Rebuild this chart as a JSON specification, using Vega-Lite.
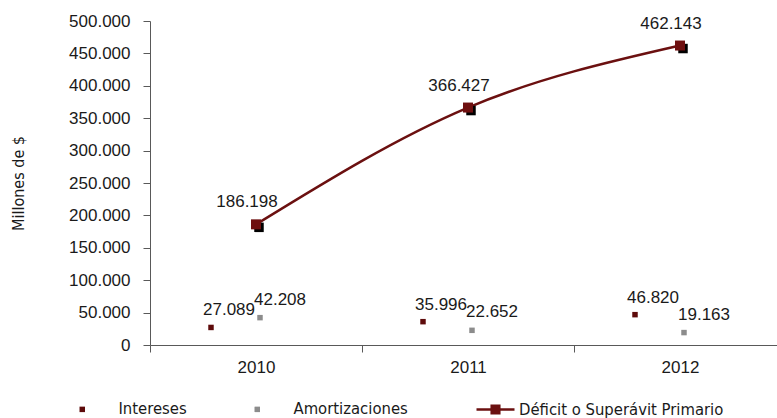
{
  "$schema": "https://vega.github.io/schema/vega-lite/v6.json",
  "width": 627,
  "height": 324,
  "autosize": {"type": "none"},
  "padding": {"left": 150, "top": 21, "right": 0, "bottom": 73},
  "background": "white",
  "config": {
    "locale": {"number": {"decimal": ",", "thousands": ".", "grouping": [3], "currency": ["$", ""]}},
    "view": {"stroke": null},
    "font": "Liberation Sans",
    "axis": {
      "domainColor": "#595959",
      "tickColor": "#595959",
      "labelColor": "#1a1a1a",
      "titleColor": "#1a1a1a",
      "grid": false,
      "labelFont": "Liberation Sans",
      "labelFontSize": 17,
      "tickSize": 7,
      "domainWidth": 1,
      "tickWidth": 1
    }
  },
  "data": {
    "values": [
      {"anio": "2010", "serie": "Intereses", "valor": 27089},
      {"anio": "2010", "serie": "Amortizaciones", "valor": 42208},
      {"anio": "2010", "serie": "Déficit o Superávit Primario", "valor": 186198},
      {"anio": "2011", "serie": "Intereses", "valor": 35996},
      {"anio": "2011", "serie": "Amortizaciones", "valor": 22652},
      {"anio": "2011", "serie": "Déficit o Superávit Primario", "valor": 366427},
      {"anio": "2012", "serie": "Intereses", "valor": 46820},
      {"anio": "2012", "serie": "Amortizaciones", "valor": 19163},
      {"anio": "2012", "serie": "Déficit o Superávit Primario", "valor": 462143}
    ]
  },
  "encoding": {
    "x": {
      "field": "anio",
      "type": "nominal",
      "scale": {"type": "band", "paddingInner": 0, "paddingOuter": 0, "range": [0, 636]},
      "axis": {"title": null, "labelAngle": 0, "tickBand": "extent", "labelPadding": 7}
    },
    "y": {
      "field": "valor",
      "type": "quantitative",
      "scale": {"domain": [0, 500000], "nice": false},
      "axis": {
        "title": "Millones de $",
        "values": [0, 50000, 100000, 150000, 200000, 250000, 300000, 350000, 400000, 450000, 500000],
        "format": ",d",
        "labelPadding": 13,
        "titleFont": "DejaVu Sans Condensed, Liberation Sans",
        "titleFontSize": 16,
        "titleFontWeight": "normal",
        "titleBaseline": "middle",
        "titleX": -132
      }
    }
  },
  "layer": [
    {
      "transform": [{"filter": "datum.serie === 'Intereses'"}],
      "mark": {"type": "point", "shape": "square", "filled": true, "size": 30, "opacity": 1, "xOffset": -45},
      "encoding": {
        "fill": {
          "field": "serie",
          "type": "nominal",
          "scale": {"domain": ["Intereses", "Amortizaciones"], "range": ["#5E0B0B", "#8C8C8C"]},
          "legend": {
            "orient": "none",
            "legendX": -76,
            "legendY": 380,
            "direction": "horizontal",
            "title": null,
            "symbolType": "square",
            "symbolSize": 30,
            "symbolStrokeWidth": 0,
            "labelFont": "DejaVu Sans Condensed, Liberation Sans",
            "labelFontSize": 16.5,
            "labelColor": "#1a1a1a",
            "labelOffset": 28,
            "labelLimit": 400,
            "columnPadding": 62,
            "padding": 0
          }
        }
      }
    },
    {
      "transform": [{"filter": "datum.serie === 'Amortizaciones'"}],
      "mark": {"type": "point", "shape": "square", "filled": true, "size": 30, "opacity": 1, "xOffset": 4},
      "encoding": {
        "fill": {"field": "serie", "type": "nominal"}
      }
    },
    {
      "transform": [{"filter": "datum.serie === 'Intereses'"}],
      "mark": {"type": "text", "dx": -27, "dy": -17, "fontSize": 17, "color": "#1a1a1a", "baseline": "middle"},
      "encoding": {"text": {"field": "valor", "type": "quantitative", "format": ",d"}}
    },
    {
      "transform": [{"filter": "datum.serie === 'Amortizaciones'"}],
      "mark": {"type": "text", "dx": 24, "dy": -18, "fontSize": 17, "color": "#1a1a1a", "baseline": "middle"},
      "encoding": {"text": {"field": "valor", "type": "quantitative", "format": ",d"}}
    },
    {
      "transform": [{"filter": "datum.serie === 'Déficit o Superávit Primario'"}],
      "mark": {"type": "line", "interpolate": "monotone", "strokeWidth": 2.5},
      "encoding": {
        "stroke": {
          "field": "serie",
          "type": "nominal",
          "scale": {"domain": ["Déficit o Superávit Primario"], "range": ["#6B1010"]},
          "legend": {
            "orient": "none",
            "legendX": 325,
            "legendY": 368,
            "title": null,
            "symbolType": "M-1,0H1M-0.2,-0.2H0.2V0.2H-0.2Z",
            "symbolSize": 1444,
            "symbolStrokeWidth": 2.5,
            "symbolStrokeColor": "#6B1010",
            "symbolFillColor": "#6B1010",
            "labelFont": "DejaVu Sans Condensed, Liberation Sans",
            "labelFontSize": 16.5,
            "labelColor": "#1a1a1a",
            "labelOffset": 3,
            "labelLimit": 400,
            "padding": 0
          }
        }
      }
    },
    {
      "transform": [{"filter": "datum.serie === 'Déficit o Superávit Primario'"}],
      "mark": {"type": "point", "shape": "square", "filled": true, "size": 90, "opacity": 1, "color": "#000000", "xOffset": 3, "yOffset": 3}
    },
    {
      "transform": [{"filter": "datum.serie === 'Déficit o Superávit Primario'"}],
      "mark": {"type": "point", "shape": "square", "filled": true, "size": 100, "opacity": 1, "color": "#6E0F0F"}
    },
    {
      "transform": [{"filter": "datum.serie === 'Déficit o Superávit Primario'"}],
      "mark": {"type": "text", "dx": -9, "dy": -22, "fontSize": 17, "color": "#1a1a1a", "baseline": "middle"},
      "encoding": {"text": {"field": "valor", "type": "quantitative", "format": ",d"}}
    }
  ]
}
